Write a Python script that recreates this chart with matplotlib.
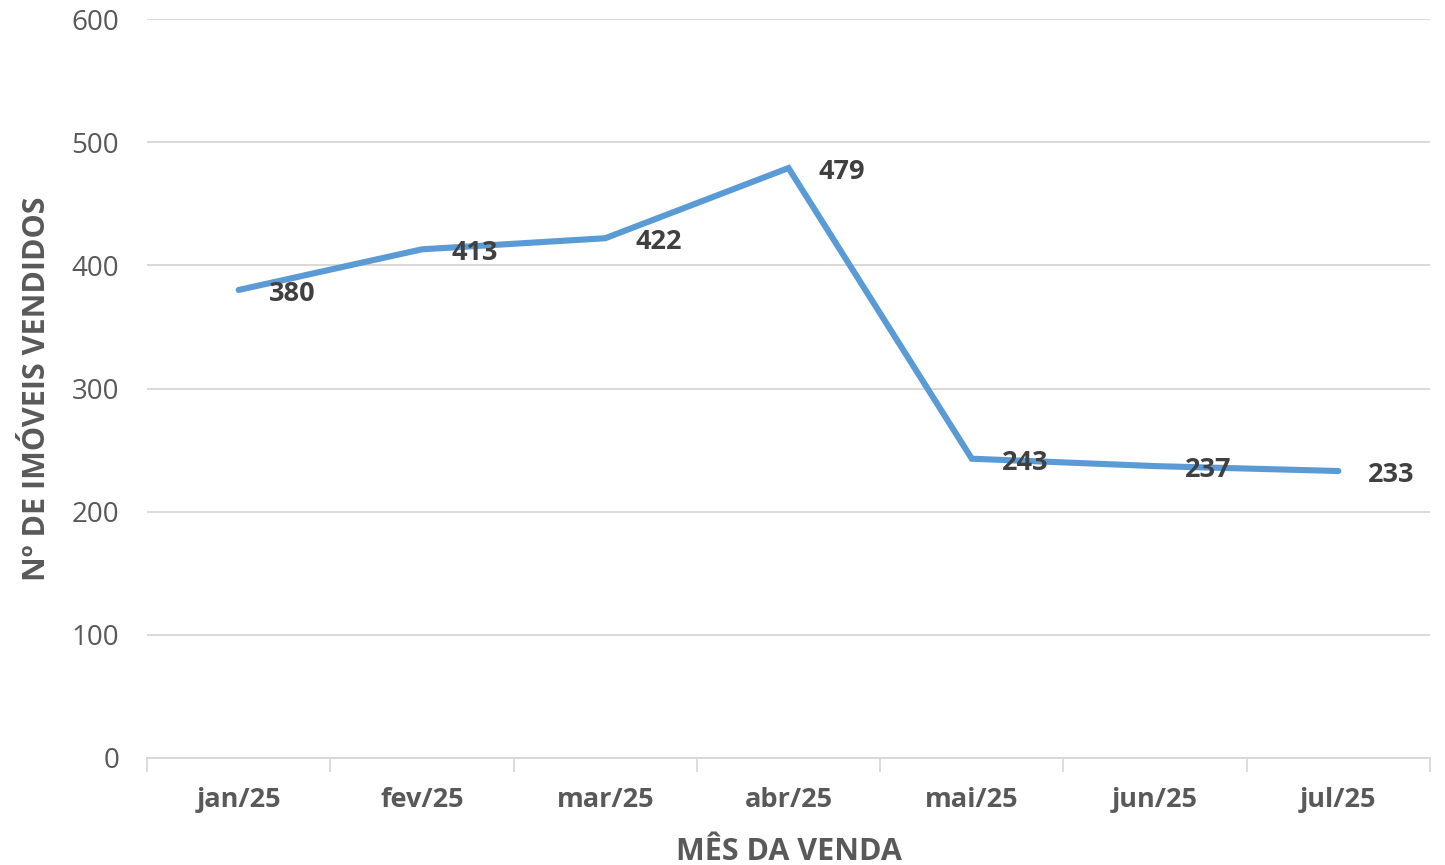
import matplotlib
matplotlib.use("Agg")
import matplotlib.pyplot as plt

months = ["jan/25", "fev/25", "mar/25", "abr/25", "mai/25", "jun/25", "jul/25"]
sold = [380, 413, 422, 479, 243, 237, 233]
yticks = [0, 100, 200, 300, 400, 500, 600]

plt.rcParams['font.family'] = ['Open Sans', 'DejaVu Sans']

fig = plt.figure(figsize=(14.45, 8.65), dpi=100)
ax = fig.add_axes([147/1445, 1 - 758/865, (1430-147)/1445, (758-19)/865])

x = list(range(len(months)))
ax.plot(x, sold, color="#5B9BD5", lw=4.4, solid_joinstyle="miter", solid_capstyle="round", zorder=3)

for xi, v in zip(x, sold):
    ax.annotate(str(v), (xi, v), xytext=(30, -4), textcoords="offset pixels",
                ha="left", va="center", fontsize=19.5, fontweight="bold", color="#404040", zorder=4)

ax.set_xlim(-0.5, len(months) - 0.5)
ax.set_ylim(0, 600)
ax.set_yticks(yticks)
ax.set_yticklabels([str(t) for t in yticks], fontsize=20, color="#595959")
ax.set_xticks(x)
ax.set_xticklabels(months, fontsize=19.5, fontweight="bold", color="#595959")
ax.set_xticks([i - 0.5 for i in range(len(months) + 1)], minor=True)
ax.tick_params(axis="x", which="major", length=0, pad=21)
ax.tick_params(axis="x", which="minor", length=10, width=1.3, color="#d9d9d9")
ax.tick_params(axis="y", length=0, pad=20)

ax.grid(axis="y", color="#d9d9d9", lw=1.4)
ax.set_axisbelow(True)
for s in ["top", "right", "left"]:
    ax.spines[s].set_visible(False)
ax.spines["bottom"].set_color("#d9d9d9")
ax.spines["bottom"].set_linewidth(1.4)

ax.set_ylabel("Nº DE IMÓVEIS VENDIDOS", fontsize=22, fontweight="bold", color="#595959", labelpad=14)
ax.set_xlabel("MÊS DA VENDA", fontsize=22, fontweight="bold", color="#595959", labelpad=17)

fig.savefig("out.png", dpi=100)
